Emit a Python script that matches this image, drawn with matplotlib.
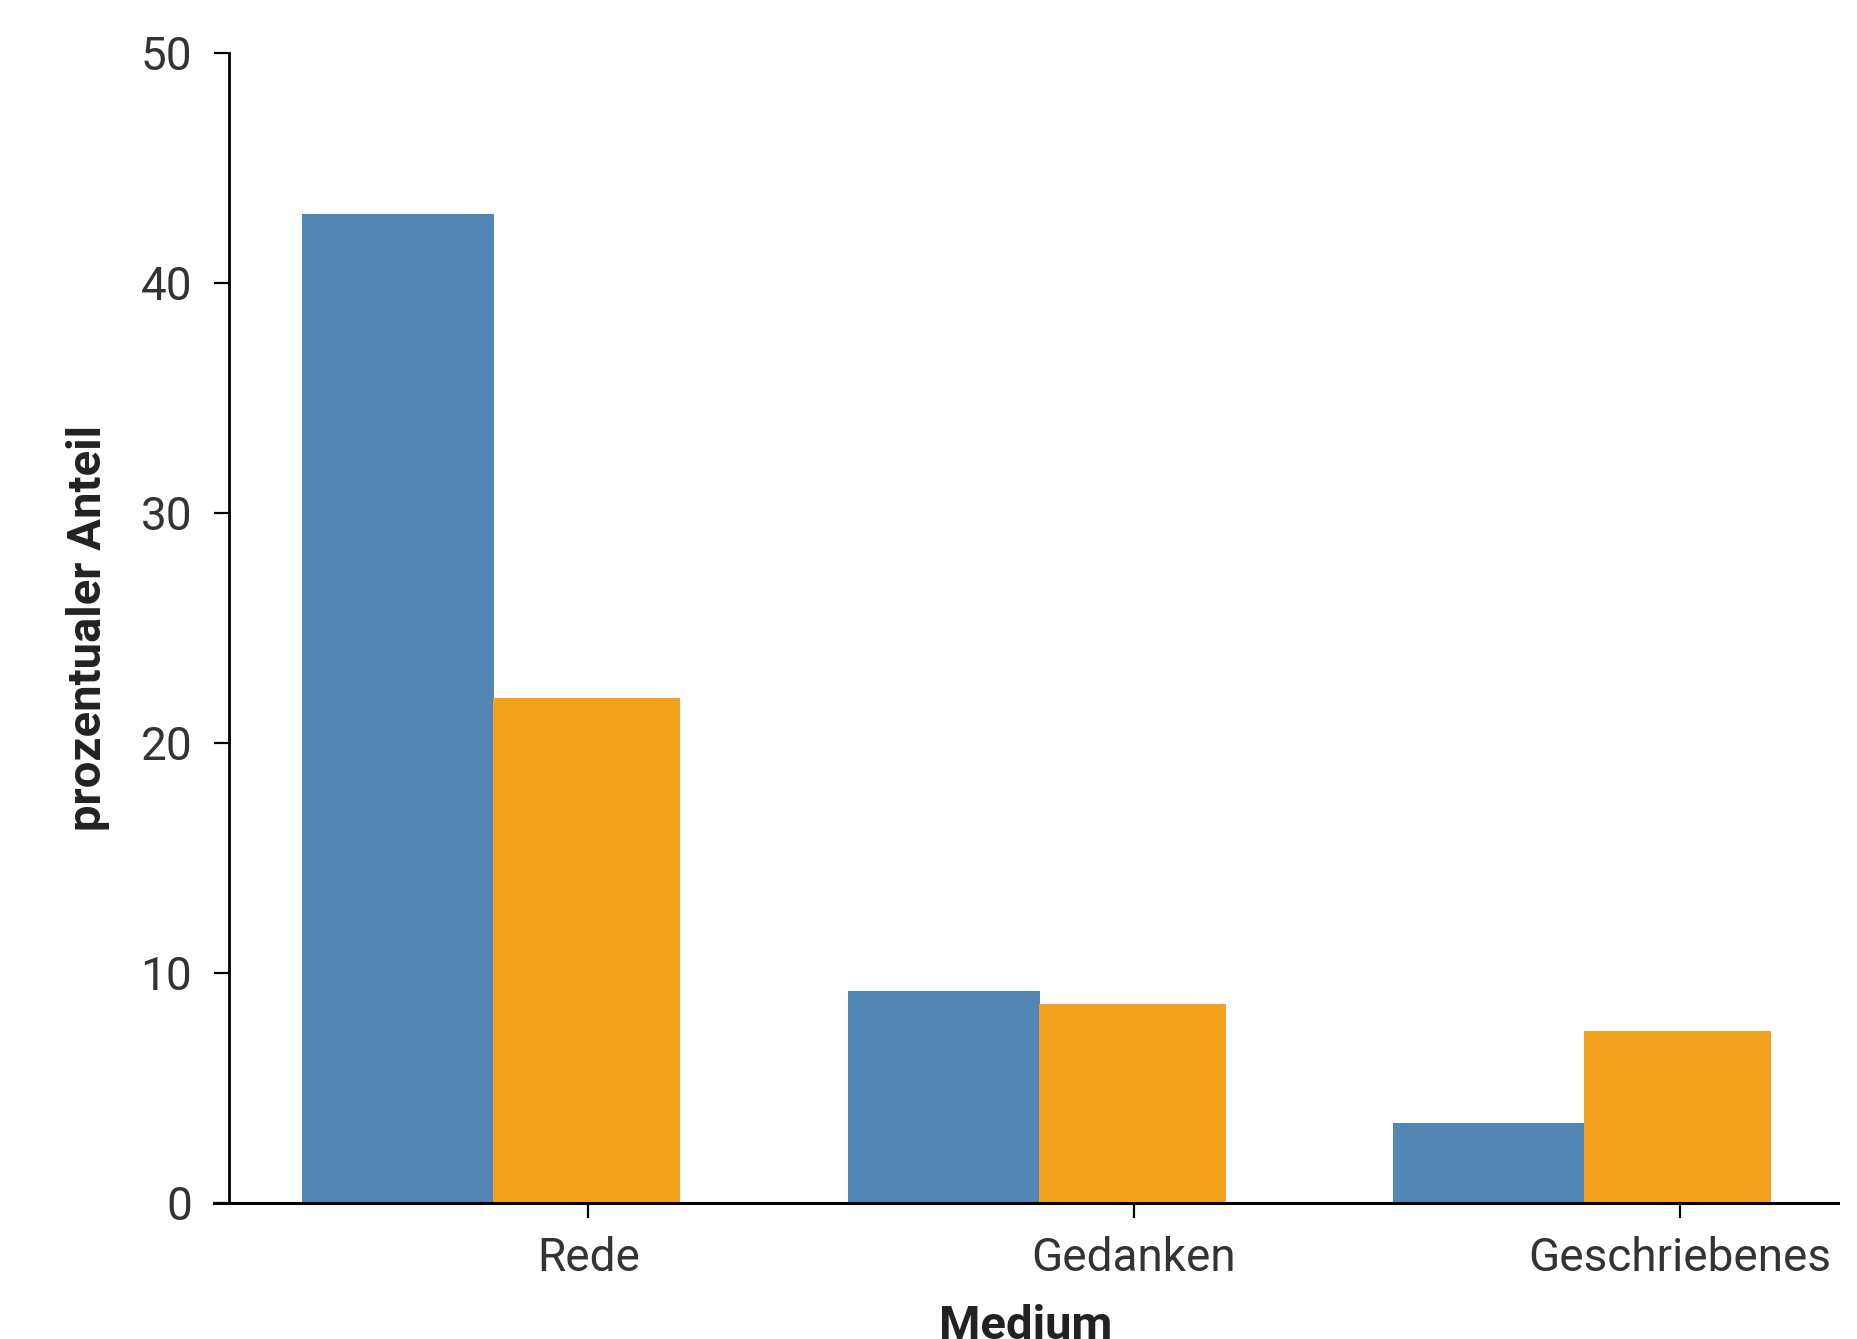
import numpy as np
import matplotlib.pyplot as plt

categories = ["Rede", "Gedanken", "Geschriebenes"]
blue_values = [43.0, 9.2, 3.5]
orange_values = [21.95, 8.65, 7.5]

blue = "#5286b5"
orange = "#f2a21f"
text_color = "#333333"

plt.rcParams['font.family'] = ['Roboto', 'DejaVu Sans']

fig = plt.figure(figsize=(18.57, 13.39), dpi=100)
ax = fig.add_axes([214 / 1857, 136 / 1339, 1624 / 1857, 1150 / 1339])

x = np.arange(len(categories))
w = 0.35
# blue bar slightly overlaps under the orange one so no hairline gap shows
ax.bar(x - 1.5 * w, blue_values, width=w + 0.002, color=blue, align='edge', linewidth=0)
ax.bar(x - 0.5 * w, orange_values, width=w * 0.98, color=orange, align='edge', linewidth=0)

ax.set_xlim(-0.686, 2.29)
ax.set_ylim(0, 50)
ax.set_yticks([0, 10, 20, 30, 40, 50])
ax.set_xticks(x)
ax.set_xticklabels(categories)

for s in ['top', 'right']:
    ax.spines[s].set_visible(False)
ax.spines['left'].set_position(('axes', 15 / 1624))
ax.spines['left'].set_linewidth(2)
ax.spines['bottom'].set_linewidth(2.2)

ax.tick_params(axis='both', direction='out', length=10.5, width=1.6,
               labelsize=33, labelcolor=text_color, colors='black')
ax.tick_params(axis='y', pad=16)
ax.tick_params(axis='x', pad=13)
for lab in ax.get_xticklabels() + ax.get_yticklabels():
    lab.set_fontweight('normal')
    lab.set_color(text_color)

ax.set_ylabel("prozentualer Anteil", fontsize=34, fontweight='bold', color='#222222')
ax.yaxis.set_label_coords(-0.064, 0.5)
ax.set_xlabel("Medium", fontsize=34, fontweight='bold', color='#222222')
ax.xaxis.set_label_coords(0.5, -0.088)

fig.savefig("out.png", dpi=100)
